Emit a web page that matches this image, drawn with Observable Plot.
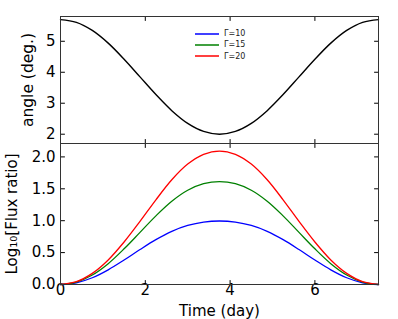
<!DOCTYPE html>
<html>
<head>
<meta charset="utf-8">
<script src="https://cdn.jsdelivr.net/npm/d3@7"></script>
<script src="https://cdn.jsdelivr.net/npm/@observablehq/plot@0.6"></script>
<style>
  html, body { margin: 0; padding: 0; background: #fff; }
  #wrap { position: relative; width: 398px; height: 319px; overflow: hidden; font-family: "DejaVu Sans", sans-serif; }
  #wrap > div.panel { position: absolute; left: 0; }
  #legend { position: absolute; left: 195px; top: 28px; font-size: 8px; line-height: 11.3px; color: #222; }
  #legend .row { display: flex; align-items: center; height: 11.3px; }
  #legend svg { margin-right: 5px; }
</style>
</head>
<body>
<div id="wrap"></div>
<script>
// ---- data ----
const times = [0, 0.375, 0.75, 1.125, 1.5, 1.875, 2.25, 2.625, 3, 3.375, 3.75,
               4.125, 4.5, 4.875, 5.25, 5.625, 6, 6.375, 6.75, 7.125, 7.5];
const angleDeg = [5.70, 5.61, 5.35, 4.94, 4.42, 3.85, 3.28, 2.76, 2.35, 2.09, 2.00,
                  2.09, 2.35, 2.76, 3.28, 3.85, 4.42, 4.94, 5.35, 5.61, 5.70];
const fluxG10 = [0, 0.027, 0.106, 0.230, 0.384, 0.548, 0.703, 0.833, 0.925, 0.978, 0.995,
                 0.978, 0.925, 0.833, 0.703, 0.548, 0.384, 0.230, 0.106, 0.027, 0];
const fluxG15 = [0, 0.038, 0.149, 0.327, 0.559, 0.817, 1.076, 1.305, 1.477, 1.580, 1.614,
                 1.580, 1.477, 1.305, 1.076, 0.817, 0.559, 0.327, 0.149, 0.038, 0];
const fluxG20 = [0, 0.044, 0.174, 0.385, 0.666, 0.989, 1.327, 1.641, 1.887, 2.040, 2.092,
                 2.040, 1.887, 1.641, 1.327, 0.989, 0.666, 0.385, 0.174, 0.044, 0];
const seriesNames = ["\u0393=10", "\u0393=15", "\u0393=20"];
const seriesColors = ["#0000ff", "#008000", "#ff0000"];
const xTicks = [0, 2, 4, 6];
const angleTicks = [2, 3, 4, 5];
const fluxTicks = [0, 0.5, 1.0, 1.5, 2.0];
const xLabel = "Time (day)";
const angleLabel = "angle (deg.)";
const fluxLabel = "Log\u2081\u2080[Flux ratio]";

// ---- derived tables ----
const angleData = times.map((t, i) => ({t, v: angleDeg[i]}));
const fluxData = [fluxG10, fluxG15, fluxG20].flatMap((arr, s) =>
  times.map((t, i) => ({t, v: arr[i], s: seriesNames[s]})));

const xDomain = [0, 7.5];
const topDomain = [1.7, 5.8];
const botDomain = [0, 2.21];
const W = 398, ML = 60, MR = 20;
const font = {fontFamily: "DejaVu Sans, sans-serif", fontSize: "15px", background: "transparent", color: "#000", overflow: "visible"};

const tickShape = {draw(ctx, l) { ctx.moveTo(0, 0); ctx.lineTo(0, -l); }};
const tickOpts = {length: 4, anchor: "start", shape: tickShape, stroke: "#000", strokeWidth: 1};
function xInward(yd) {
  return [
    Plot.vector(xTicks, {...tickOpts, x: d => d, y: () => yd[1], rotate: 180}),
    Plot.vector(xTicks, {...tickOpts, x: d => d, y: () => yd[0], rotate: 0})
  ];
}
function yInward(ticks) {
  return [
    Plot.vector(ticks, {...tickOpts, x: () => xDomain[0], y: d => d, rotate: 90}),
    Plot.vector(ticks, {...tickOpts, x: () => xDomain[1], y: d => d, rotate: 270})
  ];
}

const topPlot = Plot.plot({
  width: W, height: 144,
  marginLeft: ML, marginRight: MR, marginTop: 16, marginBottom: 1,
  style: font,
  x: {domain: xDomain, axis: null},
  y: {domain: topDomain, axis: null},
  marks: [
    Plot.axisY(angleTicks, {tickSize: 0, tickPadding: 5, label: null, fontSize: 15}),
    Plot.line(angleData, {x: "t", y: "v", stroke: "#000", strokeWidth: 1.4, curve: "catmull-rom"}),
    ...xInward(topDomain),
    ...yInward(angleTicks),
    Plot.frame({stroke: "#333", strokeWidth: 1}),
    Plot.text([angleLabel], {text: d => d, frameAnchor: "left", textAnchor: "middle", lineAnchor: "middle", rotate: -90, dx: -32, fontSize: 15.5})
  ]
});

const botPlot = Plot.plot({
  width: W, height: 176,
  marginLeft: ML, marginRight: MR, marginTop: 0, marginBottom: 35,
  style: font,
  x: {domain: xDomain, axis: null},
  y: {domain: botDomain, axis: null},
  color: {domain: seriesNames, range: seriesColors},
  marks: [
    Plot.axisY(fluxTicks, {tickSize: 0, tickPadding: 5, label: null, tickFormat: d3.format(".1f"), fontSize: 15}),
    Plot.axisX(xTicks, {tickSize: 0, tickPadding: 0, label: null, fontSize: 15}),
    Plot.line(fluxData, {x: "t", y: "v", z: "s", stroke: "s", strokeWidth: 1.3, curve: "catmull-rom"}),
    ...xInward(botDomain),
    ...yInward(fluxTicks),
    Plot.frame({stroke: "#333", strokeWidth: 1}),
    Plot.text([fluxLabel], {text: d => d, frameAnchor: "left", textAnchor: "middle", lineAnchor: "middle", rotate: -90, dx: -48, fontSize: 15}),
    Plot.text([xLabel], {text: d => d, frameAnchor: "bottom", textAnchor: "middle", lineAnchor: "middle", dy: 27, fontSize: 15})
  ]
});

const wrap = document.getElementById("wrap");
const p1 = document.createElement("div"); p1.className = "panel"; p1.style.top = "0px"; p1.appendChild(topPlot);
const p2 = document.createElement("div"); p2.className = "panel"; p2.style.top = "143px"; p2.appendChild(botPlot);
wrap.appendChild(p1); wrap.appendChild(p2);

const legend = document.createElement("div");
legend.id = "legend";
const NS = "http://www.w3.org/2000/svg";
seriesNames.forEach((n, i) => {
  const row = document.createElement("div"); row.className = "row";
  const sw = document.createElementNS(NS, "svg");
  sw.setAttribute("width", "24"); sw.setAttribute("height", "4");
  const ln = document.createElementNS(NS, "line");
  ln.setAttribute("x1", "0"); ln.setAttribute("x2", "24");
  ln.setAttribute("y1", "2"); ln.setAttribute("y2", "2");
  ln.setAttribute("stroke", seriesColors[i]); ln.setAttribute("stroke-width", "1.5");
  sw.appendChild(ln);
  const lab = document.createElement("span"); lab.textContent = n;
  row.appendChild(sw); row.appendChild(lab); legend.appendChild(row);
});
wrap.appendChild(legend);
</script>
</body>
</html>
